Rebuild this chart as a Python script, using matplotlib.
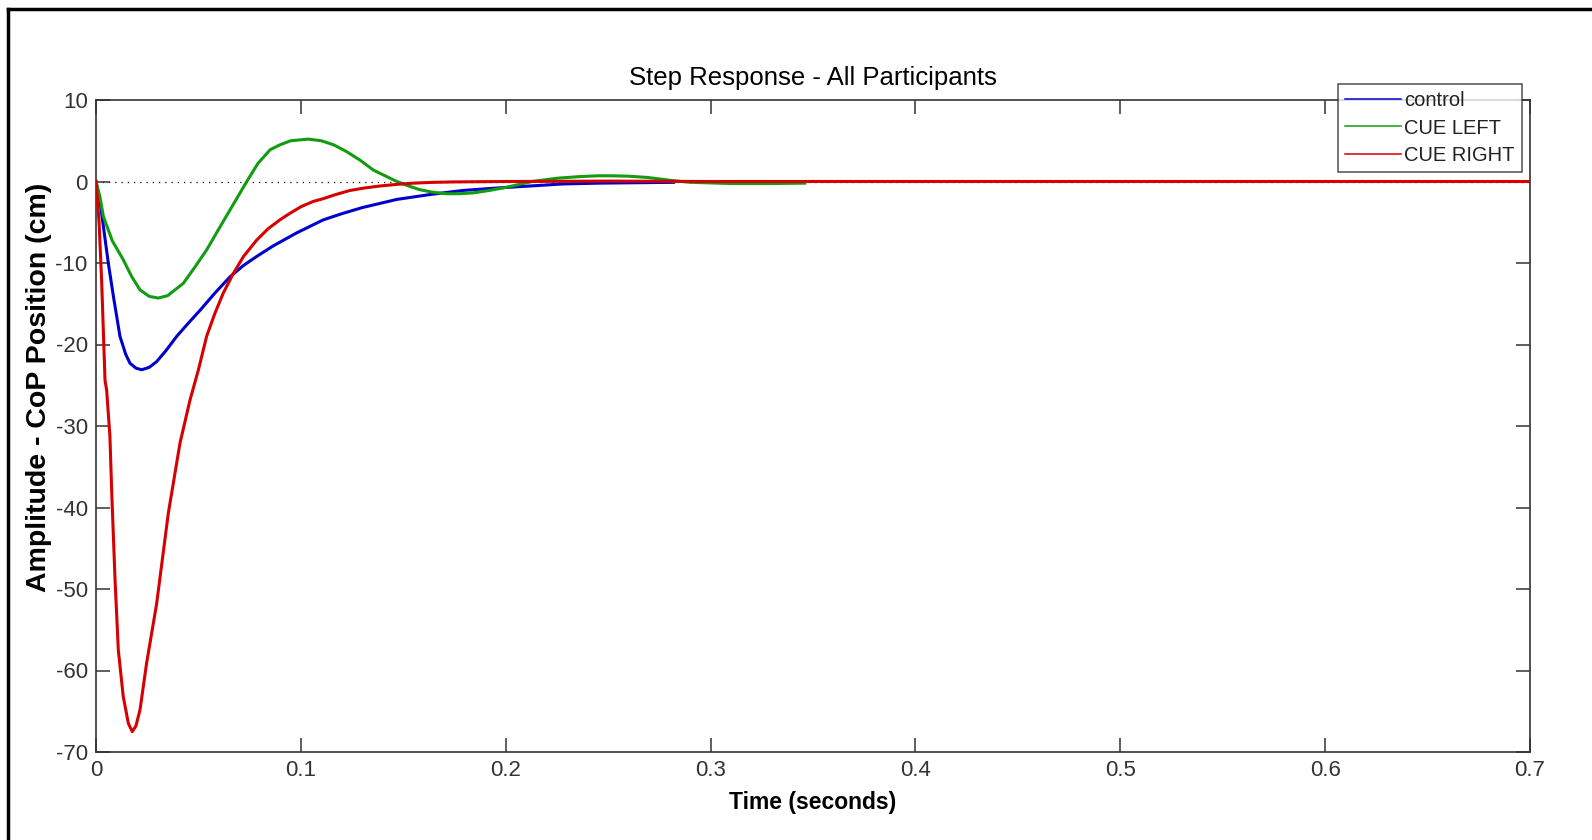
#!/usr/bin/env python3
# -*- coding: utf-8 -*-
"""
Step Response - All Participants
Recreates a MATLAB style step response plot for three conditions.
"""
import matplotlib
matplotlib.use("Agg")
import matplotlib.pyplot as plt
from matplotlib.lines import Line2D

# values (time in seconds, amplitude in cm)
control_t = [0, 0.002, 0.0036, 0.006, 0.0085, 0.0117, 0.0145, 0.0166, 0.0195,
             0.0223, 0.026, 0.0296, 0.034, 0.0394, 0.045, 0.0508, 0.058,
             0.0654, 0.072, 0.0784, 0.0865, 0.098, 0.111, 0.12, 0.13,
             0.1468, 0.163, 0.179, 0.1956, 0.212, 0.228, 0.246, 0.264, 0.282]
control_y = [0, -2.5, -5.5, -10, -14.1, -19, -21.2, -22.3, -22.9,
             -23.1, -22.8, -22.1, -20.8, -19.0, -17.4, -15.8, -13.7,
             -11.7, -10.3, -9.2, -7.9, -6.3, -4.7, -3.95, -3.2,
             -2.2, -1.6, -1.1, -0.8, -0.55, -0.3, -0.2, -0.15, -0.1]

left_t = [0, 0.002, 0.0036, 0.008, 0.0133, 0.0175, 0.0215, 0.026, 0.0304,
          0.035, 0.0426, 0.048, 0.054, 0.06, 0.0654, 0.0736, 0.079, 0.085,
          0.0898, 0.095, 0.1036, 0.110, 0.116, 0.1224, 0.129, 0.1354, 0.146,
          0.152, 0.158, 0.164, 0.171, 0.177, 0.184, 0.192, 0.2005, 0.213,
          0.225, 0.236, 0.245, 0.252, 0.26, 0.269, 0.2817, 0.29, 0.31, 0.33, 0.346]
left_y = [0, -2.0, -4.3, -7.3, -9.6, -11.7, -13.3, -14.1, -14.3,
          -14.0, -12.5, -10.6, -8.4, -5.8, -3.5, 0, 2.2, 3.9,
          4.5, 5.0, 5.2, 5.0, 4.5, 3.66, 2.6, 1.4, 0.1,
          -0.5, -1.0, -1.3, -1.5, -1.5, -1.4, -1.1, -0.7, 0,
          0.4, 0.6, 0.7, 0.7, 0.65, 0.5, 0.1, -0.1, -0.25, -0.25, -0.2]

right_t = [0, 0.0015, 0.0028, 0.0044, 0.0052, 0.0068, 0.0077, 0.0093, 0.0109,
           0.0133, 0.0158, 0.0177, 0.0195, 0.0215, 0.0247, 0.0296, 0.0353,
           0.041, 0.0459, 0.05, 0.054, 0.058, 0.0621, 0.067, 0.072, 0.0784,
           0.084, 0.0898, 0.0947, 0.1, 0.106, 0.111, 0.117, 0.124, 0.131,
           0.1386, 0.147, 0.155, 0.165, 0.175, 0.2, 0.25, 0.3, 0.7]
right_y = [0, -5, -12.5, -24.4, -25.6, -31.3, -38.3, -48.9, -57.5,
           -63.2, -66.5, -67.5, -66.8, -64.8, -59.1, -51.8, -40.7,
           -32.1, -26.8, -23.1, -19, -16.2, -13.7, -11.3, -9.2, -7.2,
           -5.8, -4.7, -3.9, -3.1, -2.45, -2.1, -1.6, -1.1, -0.8,
           -0.55, -0.35, -0.2, -0.1, -0.05, 0, 0.05, 0, 0]

labels = ["control", "CUE LEFT", "CUE RIGHT"]
colors = ["#0000cc", "#119c11", "#d60000"]

x_ticks = [0, 0.1, 0.2, 0.3, 0.4, 0.5, 0.6, 0.7]
x_tick_labels = ["0", "0.1", "0.2", "0.3", "0.4", "0.5", "0.6", "0.7"]
y_ticks = [-70, -60, -50, -40, -30, -20, -10, 0, 10]

W, H = 1592, 840


def draw_frame(fig):
    """ draws the black border that sits round the screenshot (left and top only) """
    fig.add_artist(Line2D([8 / W, 8 / W], [0, 1 - 9 / H], transform=fig.transFigure,
                          color="black", lw=2.5))
    fig.add_artist(Line2D([8 / W, 1], [1 - 9 / H, 1 - 9 / H], transform=fig.transFigure,
                          color="black", lw=2.5))


def draw_plot(fig):
    """ plots the three step responses with MATLAB look """
    ax = fig.add_axes([96 / W, 1 - 752 / H, (1530 - 96) / W, (752 - 100) / H])

    # zero reference line
    ax.axhline(0, color="black", lw=0.9, ls=(0, (1, 4)), zorder=1)

    series = [(control_t, control_y), (left_t, left_y), (right_t, right_y)]
    for (t, y), lab, col in zip(series, labels, colors):
        ax.plot(t, y, color=col, lw=2.2, label=lab, zorder=3,
                solid_joinstyle="round")

    ax.set_xlim(0, 0.7)
    ax.set_ylim(-70, 10)
    ax.set_xticks(x_ticks)
    ax.set_xticklabels(x_tick_labels)
    ax.set_yticks(y_ticks)

    for side in ax.spines.values():
        side.set_color("#333333")
        side.set_linewidth(1.2)
    ax.tick_params(direction="in", length=10, width=1.1, color="#333333",
                   top=True, right=True, labelsize=16, labelcolor="#333333", pad=6)

    ax.set_title("Step Response - All Participants", fontsize=18.5, pad=11)
    ax.set_xlabel("Time (seconds)", fontsize=16.5, fontweight="bold", labelpad=7)
    ax.set_ylabel("Amplitude - CoP Position (cm)", fontsize=20.5, fontweight="bold")
    # the y label sits a bit above the middle of the axis in the original
    ax.yaxis.set_label_coords(-0.031, 0.56)

    # legend with thin sample lines, sitting over the top right corner
    handles = [Line2D([0], [0], color=c, lw=1.1) for c in colors]
    leg = fig.legend(handles, labels, loc="upper right",
                     bbox_to_anchor=(1522 / W, 1 - 84 / H), bbox_transform=fig.transFigure,
                     fontsize=14.5, frameon=True, fancybox=False, borderpad=0.35,
                     handlelength=2.8, handletextpad=0.15, labelspacing=0.42,
                     borderaxespad=0)
    leg.get_frame().set_edgecolor("#333333")
    leg.get_frame().set_linewidth(1.2)
    for txt in leg.get_texts():
        txt.set_color("#222222")
    return ax


def main():
    plt.rcParams["font.family"] = ["Liberation Sans", "DejaVu Sans"]
    plt.rcParams["axes.unicode_minus"] = False
    fig = plt.figure(figsize=(W / 100, H / 100), dpi=100)
    draw_frame(fig)
    draw_plot(fig)
    fig.savefig("out.png", dpi=100)


if __name__ == "__main__":
    main()
